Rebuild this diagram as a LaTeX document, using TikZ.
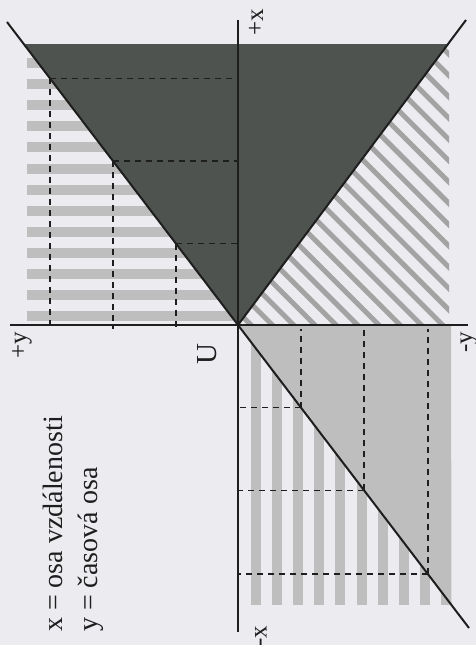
\documentclass[tikz,border=0pt]{standalone}
\usepackage{fontspec}
\setmainfont{Liberation Serif}
\definecolor{bgcol}{HTML}{ECEBEF}
\definecolor{darkcol}{HTML}{4E5350}
\definecolor{stripecol}{HTML}{BEBEBE}
\definecolor{hatchcol}{HTML}{A3A3A3}
\definecolor{linecol}{HTML}{1E1E1E}
\begin{document}
\begin{tikzpicture}[x=1pt,y=-1pt,
  axis/.style={line width=1.6pt,draw=linecol},
  diag/.style={line width=2pt,draw=linecol},
  guide/.style={line width=1.5pt,draw=linecol,dash pattern=on 6pt off 5pt},
  lab/.style={inner sep=0pt,rotate=90,font=\fontsize{25}{28}\selectfont,text=linecol},
  legend/.style={inner sep=0pt,rotate=90,anchor=base west,font=\fontsize{28}{34}\selectfont,text=linecol}]
\useasboundingbox (0,0) rectangle (476,645);
\fill[bgcol] (0,0) rectangle (476,645);

% key points
\coordinate (O) at (238,325);
\coordinate (D1a) at (7,22);
\coordinate (D1b) at (469,628);
\coordinate (D2b) at (466,20);
\coordinate (XT) at (238,20);
\coordinate (XB) at (238,632);
\coordinate (YL) at (10,325);
\coordinate (YR) at (468,325);

% upper-left horizontal stripes
\foreach \i in {0,...,12}
  \fill[stripecol] (27,{58+21.1*\i}) rectangle (233,{68+21.1*\i});
% dark triangle
\fill[darkcol] (O) -- (23.8,44) -- (448,44) -- cycle;

% hatched triangle
\begin{scope}
  \clip (O) -- (448,44) -- (449,44) -- (449,325) -- cycle;
  \foreach \k in {0,...,22}
    \draw[hatchcol,line width=5pt] (200,{274-21.3*\k}) -- (470,{544-21.3*\k});
\end{scope}

% lower-right vertical stripes and light triangle
\foreach \i in {0,...,9}
  \fill[stripecol] ({251+21.1*\i},334) rectangle ({261+21.1*\i},605);
\fill[stripecol] (O) -- (451,325) -- (451.5,605) -- cycle;

% guide points on the diagonal
\coordinate (P1) at (50,78.4);
\coordinate (P2) at (113,161);
\coordinate (P3) at (176,243.7);
\coordinate (Q1) at (301,407.6);
\coordinate (Q2) at (364,490.3);
\coordinate (Q3) at (428,574.2);
\foreach \p in {P1,P2,P3,Q1,Q2,Q3}{
  \draw[guide] (\p) -- ([yshift=-4pt]\p |- O);
  \draw[guide] (\p) -- (\p -| O);
}

% axes
\draw[axis] (XT) -- (XB);
\draw[axis] (YL) -- (YR);
% diagonals
\draw[diag] (D1a) -- (D1b);
\draw[diag] (O) -- (D2b);

% labels
\node[lab] (ypos) at (22,345) {+y};
\node[lab] (yneg) at (469,342) {-y};
\node[lab] (xpos) at (256,22) {+x};
\node[lab] (xneg) at (261,636) {-x};
\node[lab,font=\fontsize{29}{30}\selectfont] (U) at (207,354) {U};
\node[legend] (l1) at (62,632) {x = osa vzdálenosti};
\node[legend] (l2) at (97,632) {y = časová osa};
\end{tikzpicture}
\end{document}
